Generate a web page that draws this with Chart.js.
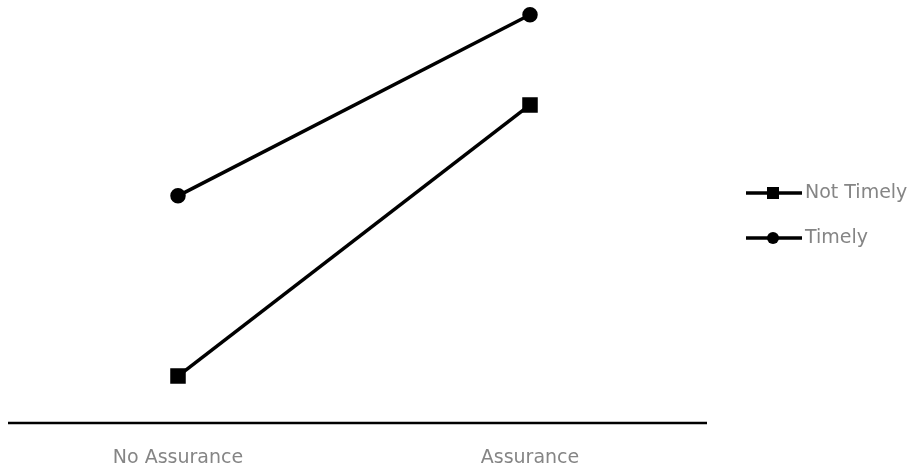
<!DOCTYPE html>
<html>
<head>
<meta charset="utf-8">
<script src="https://cdn.jsdelivr.net/npm/chart.js@4.4.1/dist/chart.umd.min.js"></script>
<style>
  html, body { margin: 0; padding: 0; background: #fff; }
  #wrap { width: 917px; height: 471px; }
</style>
</head>
<body>
<div id="wrap"><canvas id="myChart" width="917" height="471"></canvas></div>
<script>
const categories = ['No Assurance', 'Assurance'];
const notTimely = [1.11, 7.52];
const timely = [5.37, 9.65];

const font = { family: 'DejaVu Sans', size: 19 };
const textColor = '#858585';

// baseline under the plot, a bit inset on the left like the original
const baseLine = {
  id: 'baseLine',
  beforeDatasetsDraw(chart) {
    const { ctx, chartArea } = chart;
    ctx.save();
    ctx.strokeStyle = '#000';
    ctx.lineWidth = 2.5;
    ctx.beginPath();
    ctx.moveTo(chartArea.left + 6, chartArea.bottom);
    ctx.lineTo(chartArea.right + 1, chartArea.bottom);
    ctx.stroke();
    ctx.restore();
  }
};

// simple legend on the right: line with marker, then label
const sideLegend = {
  id: 'sideLegend',
  afterDraw(chart) {
    const ctx = chart.ctx;
    const rows = [193, 238];
    chart.data.datasets.forEach((ds, i) => {
      const y = rows[i];
      ctx.save();
      ctx.strokeStyle = '#000';
      ctx.lineWidth = 3.5;
      ctx.beginPath();
      ctx.moveTo(746, y);
      ctx.lineTo(802, y);
      ctx.stroke();
      ctx.fillStyle = '#000';
      if (ds.pointStyle === 'rect') {
        ctx.fillRect(767, y - 6, 12, 12);
      } else {
        ctx.beginPath();
        ctx.arc(773, y, 6, 0, Math.PI * 2);
        ctx.fill();
      }
      ctx.fillStyle = textColor;
      ctx.font = font.size + 'px ' + font.family;
      ctx.textBaseline = 'middle';
      ctx.fillText(ds.label, 805, y);
      ctx.restore();
    });
  }
};

new Chart(document.getElementById('myChart'), {
  type: 'line',
  data: {
    labels: categories,
    datasets: [{
      label: 'Not Timely',
      data: notTimely,
      borderColor: '#000',
      backgroundColor: '#000',
      borderWidth: 3.5,
      pointStyle: 'rect',
      pointRadius: 8.5,
      clip: false
    }, {
      label: 'Timely',
      data: timely,
      borderColor: '#000',
      backgroundColor: '#000',
      borderWidth: 3.5,
      pointStyle: 'circle',
      pointRadius: 6,
      clip: false
    }]
  },
  options: {
    responsive: false,
    animation: false,
    layout: {
      autoPadding: false,
      padding: { left: 2, right: 211, top: 0, bottom: 0 }
    },
    plugins: {
      legend: { display: false },
      tooltip: { enabled: false }
    },
    scales: {
      x: {
        offset: true,
        grid: { display: false },
        border: { display: false },
        ticks: { color: textColor, font: font, padding: 16 },
        afterFit(scale) { scale.height = 48; }
      },
      y: {
        display: false,
        min: 0,
        max: 10
      }
    }
  },
  plugins: [baseLine, sideLegend]
});
</script>
</body>
</html>
